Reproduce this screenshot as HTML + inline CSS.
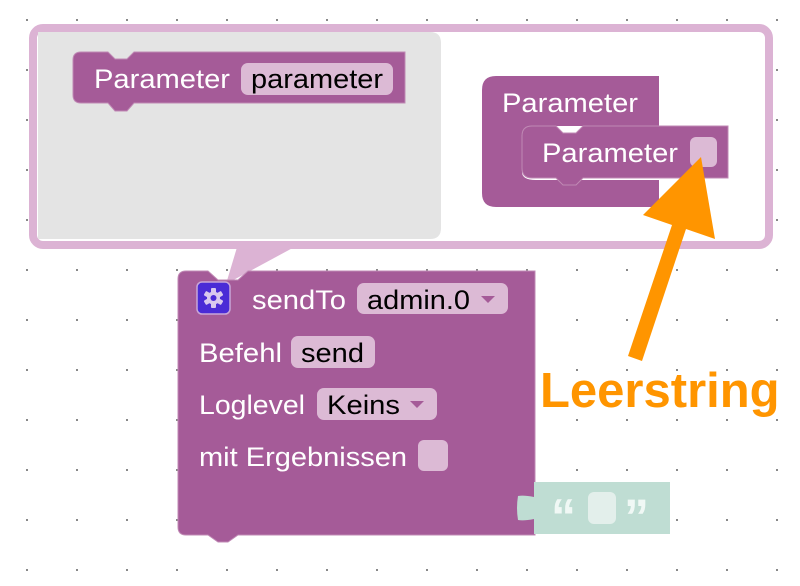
<!DOCTYPE html>
<html><head><meta charset="utf-8"><style>
html,body{margin:0;padding:0;background:#fff;}
svg{display:block;}
text{font-family:"Liberation Sans",Arial,sans-serif;}
</style></head><body>
<svg width="800" height="586" viewBox="0 0 800 586" xmlns="http://www.w3.org/2000/svg">
<defs>
<pattern id="dots" x="26" y="19" width="50" height="50" patternUnits="userSpaceOnUse">
<rect x="0" y="0" width="2" height="2" fill="#888"/>
</pattern>
</defs>
<rect width="800" height="586" fill="#fff"/>
<rect width="800" height="586" fill="url(#dots)"/>

<!-- bubble tail -->
<path d="M238 244 L300 244 L226 284 Z" fill="#dcb3d4"/>
<!-- bubble -->
<rect x="33" y="28" width="736" height="217" rx="10" fill="#fff" stroke="#dcb3d4" stroke-width="8"/>
<path d="M38 32 L430 32 Q441 32 441 43 L441 228 Q441 239 430 239 L38 239 Z" fill="#e4e4e4"/>

<!-- top-left Parameter block -->
<path d="M81 52 L108 52 L115 59 L127 59 L134 52 L405 52 L405 103 L134 103 L127 111 L115 111 L108 103 L81 103 Q73 103 73 95 L73 60 Q73 52 81 52 Z" fill="#a55b98" stroke="#c08ab5" stroke-width="1"/>
<text x="94" y="88" font-size="27" fill="#fff" textLength="136" lengthAdjust="spacingAndGlyphs">Parameter</text>
<rect x="241" y="63" width="152" height="32" rx="7" fill="#dcbad5"/>
<text x="251" y="88" font-size="27" fill="#000" textLength="132" lengthAdjust="spacingAndGlyphs">parameter</text>

<!-- right Parameter container -->
<path d="M496 76 L659 76 L659 126 L536 126 Q522 126 522 140 L522 172 Q522 180 536 180 L659 180 L659 207 L496 207 Q482 207 482 193 L482 90 Q482 76 496 76 Z" fill="#a55b98"/>
<text x="502" y="112" font-size="27" fill="#fff" textLength="136" lengthAdjust="spacingAndGlyphs">Parameter</text>
<path d="M532 126 L556 126 L563 133 L576 133 L583 126 L728 126 L728 178 L583 178 L576 185 L563 185 L556 178 L532 178 Q522 178 522 168 L522 136 Q522 126 532 126 Z" fill="#a55b98" stroke="#c08ab5" stroke-width="1"/>
<text x="542" y="162" font-size="27" fill="#fff" textLength="136" lengthAdjust="spacingAndGlyphs">Parameter</text>
<rect x="690" y="137" width="27" height="30" rx="6" fill="#dcbad5"/>

<!-- main sendTo block -->
<path d="M186 271 L208 271 L218 280 L238 280 L248 271 L535 271 L535 535 L238 535 L228 542 L218 542 L208 535 L186 535 Q178 535 178 527 L178 279 Q178 271 186 271 Z" fill="#a55b98" stroke="#c08ab5" stroke-width="1"/>
<rect x="197" y="282" width="33" height="32" rx="5" fill="#4a2bd6" stroke="#c8a6d8" stroke-width="1.5"/>
<g transform="translate(213.5,298)" fill="#d8c8ee">
<circle r="6.5"/>
<rect x="-2.5" y="-10" width="5" height="20" rx="1"/>
<rect x="-2.5" y="-10" width="5" height="20" rx="1" transform="rotate(60)"/>
<rect x="-2.5" y="-10" width="5" height="20" rx="1" transform="rotate(120)"/>
<circle r="3" fill="#4a2bd6"/>
</g>
<text x="252" y="309" font-size="27" fill="#fff" textLength="94" lengthAdjust="spacingAndGlyphs">sendTo</text>
<rect x="357" y="283" width="151" height="31" rx="7" fill="#dcbad5"/>
<text x="367" y="309" font-size="27" fill="#000" textLength="103" lengthAdjust="spacingAndGlyphs">admin.0</text>
<path d="M481 296 L495 296 L488 303 Z" fill="#a55b98"/>

<text x="199" y="362" font-size="27" fill="#fff" textLength="83" lengthAdjust="spacingAndGlyphs">Befehl</text>
<rect x="291" y="336" width="84" height="32" rx="7" fill="#dcbad5"/>
<text x="301" y="362" font-size="27" fill="#000" textLength="63" lengthAdjust="spacingAndGlyphs">send</text>

<text x="199" y="414" font-size="27" fill="#fff" textLength="106" lengthAdjust="spacingAndGlyphs">Loglevel</text>
<rect x="317" y="388" width="120" height="32" rx="7" fill="#dcbad5"/>
<text x="327" y="414" font-size="27" fill="#000" textLength="73" lengthAdjust="spacingAndGlyphs">Keins</text>
<path d="M410 401 L424 401 L417 408 Z" fill="#a55b98"/>

<text x="199" y="466" font-size="27" fill="#fff" textLength="208" lengthAdjust="spacingAndGlyphs">mit Ergebnissen</text>
<rect x="418" y="440" width="30" height="31" rx="6" fill="#dcbad5"/>

<!-- text block -->
<path d="M534 482 L670 482 L670 534 L534 534 L534 519 Q524 521 518 520 Q516 508 518 496 Q524 495 534 497 Z" fill="#bfddd3"/>
<text x="551" y="534" font-size="50" font-weight="bold" fill="#f0f8f5" font-family="Liberation Serif, serif">“</text>
<rect x="588" y="492" width="28" height="32" rx="6" fill="#e3efeb"/>
<text x="624" y="534" font-size="50" font-weight="bold" fill="#f0f8f5" font-family="Liberation Serif, serif">”</text>

<!-- arrow -->
<polygon points="701,157 715,239 686,229 642,361 628,356 672,225 643,215" fill="#ff9500"/>
<text x="540" y="407" font-size="49" font-weight="bold" fill="#ff9500">Leerstring</text>
</svg>
</body></html>
